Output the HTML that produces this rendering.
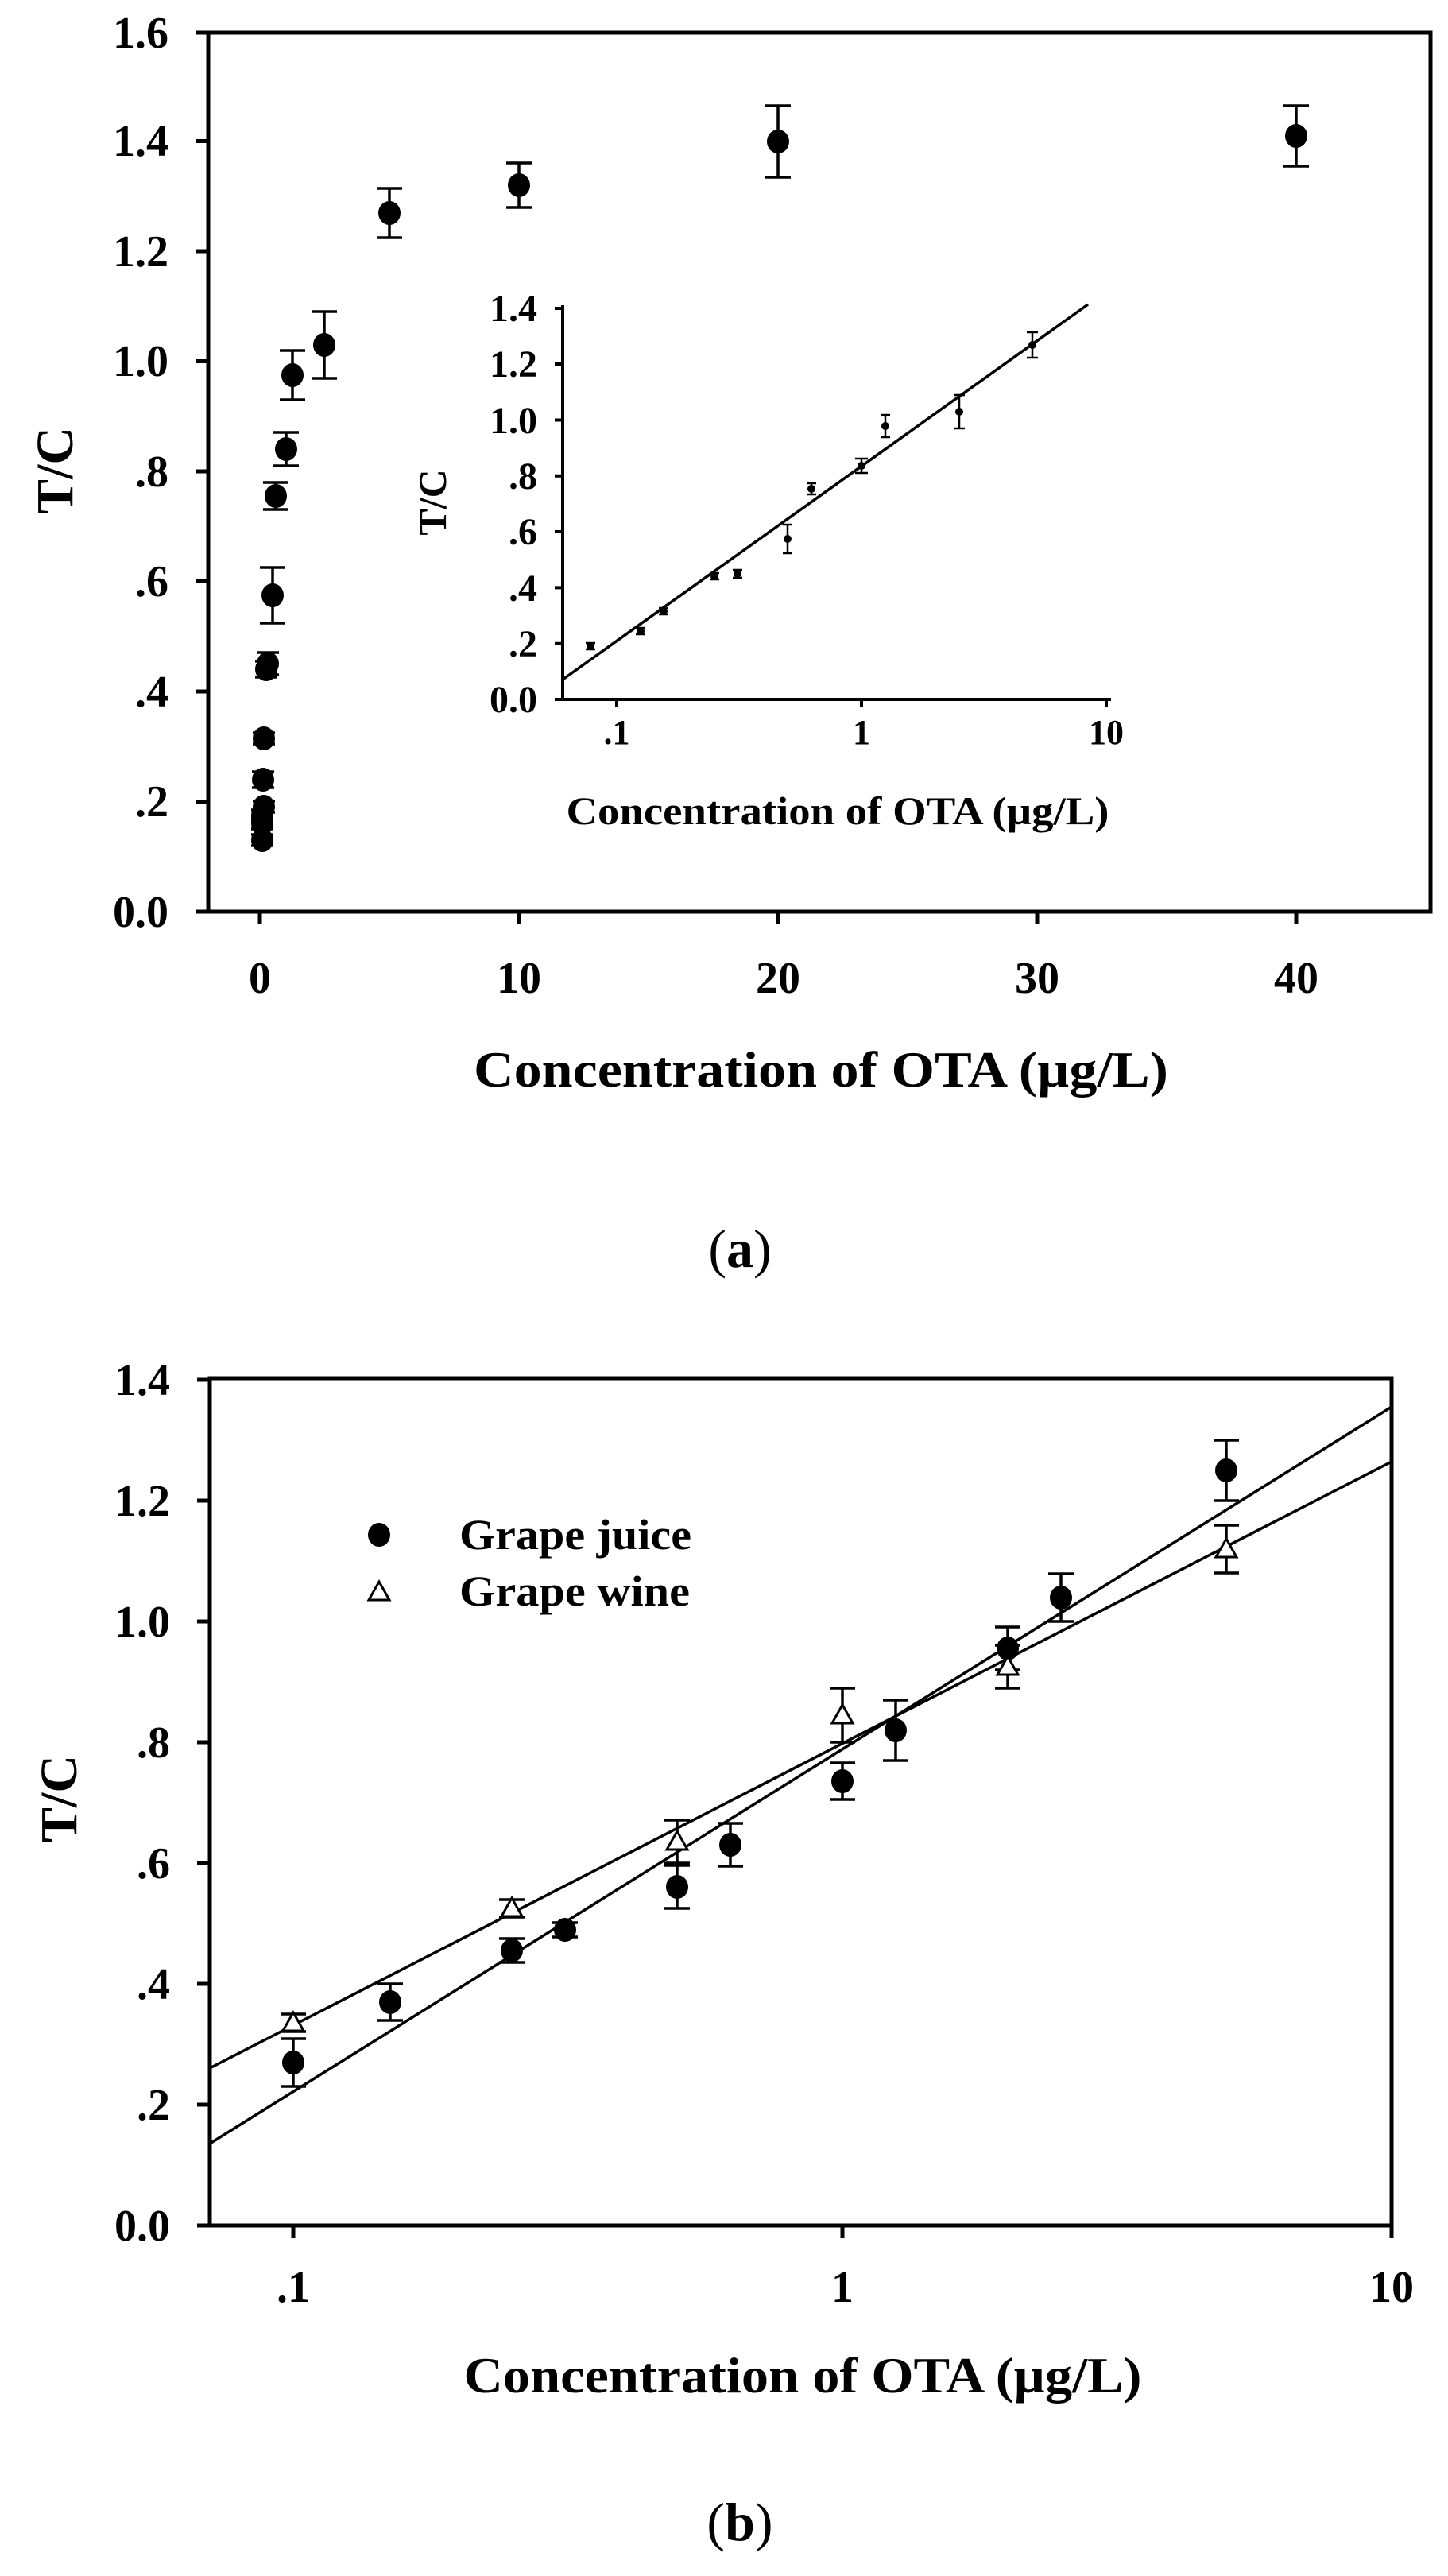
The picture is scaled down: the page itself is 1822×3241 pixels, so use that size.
<!DOCTYPE html>
<html><head><meta charset="utf-8"><style>html,body{margin:0;padding:0;background:#fff}svg{display:block}text{font-family:"Liberation Serif",serif;fill:#000}</style></head>
<body>
<svg width="1822" height="3241" viewBox="0 0 1822 3241" xmlns="http://www.w3.org/2000/svg">
<rect width="1822" height="3241" fill="#fff"/>
<!-- ===== Plot (a) ===== -->
<g stroke="#000" stroke-width="5" fill="none">
<rect x="262" y="41" width="1538" height="1106"/>
<path d="M246 1147H262M246 1008.5H262M246 870H262M246 731.5H262M246 593H262M246 454.5H262M246 316H262M246 177.5H262M246 41H262"/>
<path d="M327 1147V1163M653 1147V1163M979 1147V1163M1305 1147V1163M1631 1147V1163"/>
</g>
<g font-weight="bold" font-size="56" text-anchor="end">
<text x="212" y="1166">0.0</text><text x="212" y="1027">.2</text><text x="212" y="889">.4</text><text x="212" y="750">.6</text><text x="212" y="612">.8</text><text x="212" y="473">1.0</text><text x="212" y="335">1.2</text><text x="212" y="196">1.4</text><text x="212" y="60">1.6</text>
</g>
<g font-weight="bold" font-size="56" text-anchor="middle">
<text x="327" y="1249">0</text><text x="653" y="1249">10</text><text x="979" y="1249">20</text><text x="1305" y="1249">30</text><text x="1631" y="1249">40</text>
</g>
<text x="1033" y="1367" font-weight="bold" font-size="64" text-anchor="middle" textLength="874" lengthAdjust="spacingAndGlyphs">Concentration of OTA (µg/L)</text>
<text transform="translate(91 592) rotate(-90)" font-weight="bold" font-size="66" text-anchor="middle">T/C</text>
<!-- error bars a -->
<g stroke="#000" stroke-width="3.5" fill="none">
<path d="M330 1050V1064M316 1050H344M316 1064H344"/>
<path d="M330 1029V1043M316 1029H344M316 1043H344"/>
<path d="M330 1019V1033M316 1019H344M316 1033H344"/>
<path d="M332 1008V1022M318 1008H346M318 1022H346"/>
<path d="M331 971V991M317 971H345M317 991H345"/>
<path d="M332 922V936M318 922H346M318 936H346"/>
<path d="M335 832V852M321 832H349M321 852H349"/>
<path d="M337 821V849M323 821H351M323 849H351"/>
<path d="M343 714V784M327 714H359M327 784H359"/>
<path d="M347 607V641M331 607H363M331 641H363"/>
<path d="M360 544V586M344 544H376M344 586H376"/>
<path d="M368 441V503M352 441H384M352 503H384"/>
<path d="M408 392V476M392 392H424M392 476H424"/>
<path d="M490 237V299M474 237H506M474 299H506"/>
<path d="M653 205V261M637 205H669M637 261H669"/>
<path d="M979 133V223M963 133H995M963 223H995"/>
<path d="M1631 133V209M1615 133H1647M1615 209H1647"/>
</g>
<g fill="#000">
<ellipse cx="330" cy="1057" rx="14" ry="15"/><ellipse cx="330" cy="1036" rx="14" ry="15"/><ellipse cx="330" cy="1026" rx="14" ry="15"/><ellipse cx="332" cy="1015" rx="14" ry="15"/><ellipse cx="331" cy="981" rx="14" ry="15"/><ellipse cx="332" cy="929" rx="14" ry="15"/><ellipse cx="335" cy="842" rx="14" ry="15"/><ellipse cx="337" cy="835" rx="14" ry="15"/><ellipse cx="343" cy="749" rx="14" ry="15"/><ellipse cx="347" cy="624" rx="14" ry="15"/><ellipse cx="360" cy="565" rx="14" ry="15"/><ellipse cx="368" cy="472" rx="14" ry="15"/><ellipse cx="408" cy="434" rx="14" ry="15"/><ellipse cx="490" cy="268" rx="14" ry="15"/><ellipse cx="653" cy="233" rx="14" ry="15"/><ellipse cx="979" cy="178" rx="14" ry="15"/><ellipse cx="1631" cy="171" rx="14" ry="15"/>
</g>
<!-- inset -->
<g stroke="#000" stroke-width="4" fill="none">
<path d="M708 384V880H1398"/>
<path d="M698 880H708M698 809.7H708M698 739.4H708M698 669H708M698 598.8H708M698 528.5H708M698 458H708M698 388H708"/>
<path d="M776 880V890M1084 880V890M1392 880V890"/>
</g>
<line x1="708" y1="855" x2="1369" y2="383" stroke="#000" stroke-width="3.5"/>
<g font-weight="bold" font-size="48" text-anchor="end">
<text x="676" y="896">0.0</text><text x="676" y="826">.2</text><text x="676" y="756">.4</text><text x="676" y="685">.6</text><text x="676" y="615">.8</text><text x="676" y="545">1.0</text><text x="676" y="474">1.2</text><text x="676" y="404">1.4</text>
</g>
<g font-weight="bold" font-size="44" text-anchor="middle">
<text x="776" y="936">.1</text><text x="1084" y="936">1</text><text x="1392" y="936">10</text>
</g>
<text x="1054" y="1037" font-weight="bold" font-size="50" text-anchor="middle" textLength="683" lengthAdjust="spacingAndGlyphs">Concentration of OTA (µg/L)</text>
<text transform="translate(561 632) rotate(-90)" font-weight="bold" font-size="50" text-anchor="middle">T/C</text>
<g stroke="#000" stroke-width="2.5" fill="none">
<path d="M743 809V817M737 809H749M737 817H749"/>
<path d="M806 790V798M800 790H812M800 798H812"/>
<path d="M835 765V773M829 765H841M829 773H841"/>
<path d="M899 721V729M893 721H905M893 729H905"/>
<path d="M928 717V727M922 717H934M922 727H934"/>
<path d="M991 660V696M985 660H997M985 696H997"/>
<path d="M1021 608V622M1015 608H1027M1015 622H1027"/>
<path d="M1084 577V595M1076 577H1092M1076 595H1092"/>
<path d="M1114 522V550M1108 522H1120M1108 550H1120"/>
<path d="M1207 497V539M1200 497H1214M1200 539H1214"/>
<path d="M1299 418V450M1292 418H1306M1292 450H1306"/>
</g>
<g fill="#000">
<circle cx="743" cy="813" r="5"/><circle cx="806" cy="794" r="5"/><circle cx="835" cy="769" r="5"/><circle cx="899" cy="725" r="5"/><circle cx="928" cy="722" r="5"/><circle cx="991" cy="678" r="5"/><circle cx="1021" cy="615" r="5"/><circle cx="1084" cy="586" r="5"/><circle cx="1114" cy="536" r="5"/><circle cx="1207" cy="518" r="5"/><circle cx="1299" cy="434" r="5"/>
</g>
<text x="931" y="1594" font-size="68" text-anchor="middle">(<tspan font-weight="bold">a</tspan>)</text>

<!-- ===== Plot (b) ===== -->
<g stroke="#000" stroke-width="5" fill="none">
<rect x="264" y="1734" width="1487" height="1066"/>
<path d="M248 2800H264M248 2648H264M248 2496H264M248 2344H264M248 2192H264M248 2040H264M248 1888H264M248 1736H264"/>
<path d="M369 2800V2816M1060 2800V2816M1751 2800V2816"/>
</g>
<g font-weight="bold" font-size="56" text-anchor="end">
<text x="214" y="2819">0.0</text><text x="214" y="2667">.2</text><text x="214" y="2515">.4</text><text x="214" y="2363">.6</text><text x="214" y="2211">.8</text><text x="214" y="2059">1.0</text><text x="214" y="1907">1.2</text><text x="214" y="1755">1.4</text>
</g>
<g font-weight="bold" font-size="56" text-anchor="middle">
<text x="369" y="2896">.1</text><text x="1060" y="2896">1</text><text x="1751" y="2896">10</text>
</g>
<text x="1010" y="3010" font-weight="bold" font-size="64" text-anchor="middle" textLength="853" lengthAdjust="spacingAndGlyphs">Concentration of OTA (µg/L)</text>
<text transform="translate(96 2263) rotate(-90)" font-weight="bold" font-size="66" text-anchor="middle">T/C</text>
<g stroke="#000" stroke-width="3.5">
<line x1="264" y1="2697" x2="1751" y2="1770"/>
<line x1="264" y1="2602" x2="1751" y2="1839"/>
</g>
<g stroke="#000" stroke-width="3.5" fill="none">
<path d="M369 2565V2625M353 2565H385M353 2625H385"/>
<path d="M491 2496V2542M475 2496H507M475 2542H507"/>
<path d="M644 2439V2469M628 2439H660M628 2469H660"/>
<path d="M711 2419V2437M695 2419H727M695 2437H727"/>
<path d="M852 2347V2401M836 2347H868M836 2401H868"/>
<path d="M919 2294V2348M903 2294H935M903 2348H935"/>
<path d="M1060 2218V2264M1044 2218H1076M1044 2264H1076"/>
<path d="M1127 2139V2215M1111 2139H1143M1111 2215H1143"/>
<path d="M1268 2047V2101M1252 2047H1284M1252 2101H1284"/>
<path d="M1335 1980V2040M1319 1980H1351M1319 2040H1351"/>
<path d="M1543 1812V1888M1527 1812H1559M1527 1888H1559"/>
<path d="M369 2534V2556M353 2534H385M353 2556H385"/>
<path d="M644 2390V2412M628 2390H660M628 2412H660"/>
<path d="M852 2290V2344M836 2290H868M836 2344H868"/>
<path d="M1060 2124V2192M1044 2124H1076M1044 2192H1076"/>
<path d="M1268 2070V2124M1252 2070H1284M1252 2124H1284"/>
<path d="M1543 1919V1979M1527 1919H1559M1527 1979H1559"/>
</g>
<g fill="#000">
<ellipse cx="369" cy="2595" rx="14" ry="15"/><ellipse cx="491" cy="2519" rx="14" ry="15"/><ellipse cx="644" cy="2454" rx="14" ry="15"/><ellipse cx="711" cy="2428" rx="14" ry="15"/><ellipse cx="852" cy="2374" rx="14" ry="15"/><ellipse cx="919" cy="2321" rx="14" ry="15"/><ellipse cx="1060" cy="2241" rx="14" ry="15"/><ellipse cx="1127" cy="2177" rx="14" ry="15"/><ellipse cx="1268" cy="2074" rx="14" ry="15"/><ellipse cx="1335" cy="2010" rx="14" ry="15"/><ellipse cx="1543" cy="1850" rx="14" ry="15"/>
</g>
<g fill="#fff" stroke="#000" stroke-width="3">
<path d="M369 2532L382 2555H356Z"/><path d="M644 2388L657 2411H631Z"/><path d="M852 2304L865 2327H839Z"/><path d="M1060 2145L1073 2168H1047Z"/><path d="M1268 2084L1281 2107H1255Z"/><path d="M1543 1936L1556 1959H1530Z"/>
</g>
<ellipse cx="477" cy="1931" rx="14" ry="15" fill="#000"/>
<path d="M477 1990L490 2013H464Z" fill="#fff" stroke="#000" stroke-width="3"/>
<g font-weight="bold" font-size="54">
<text x="578" y="1949" textLength="292" lengthAdjust="spacingAndGlyphs">Grape juice</text>
<text x="578" y="2020" textLength="290" lengthAdjust="spacingAndGlyphs">Grape wine</text>
</g>
<text x="931" y="3196" font-size="68" text-anchor="middle">(<tspan font-weight="bold">b</tspan>)</text>
</svg>
</body></html>
